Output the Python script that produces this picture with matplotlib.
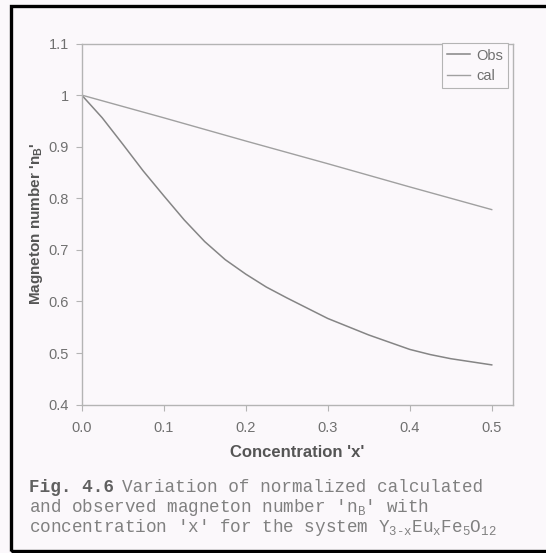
import matplotlib
matplotlib.use('Agg')
import matplotlib.pyplot as plt
from matplotlib.patches import Rectangle

# values
conc_obs = [0.0, 0.025, 0.05, 0.075, 0.1, 0.125, 0.15, 0.175, 0.2, 0.225, 0.25,
            0.275, 0.3, 0.325, 0.35, 0.375, 0.4, 0.425, 0.45, 0.475, 0.5]
nb_obs = [1.0, 0.956, 0.905, 0.853, 0.805, 0.758, 0.716, 0.681, 0.653, 0.628, 0.607,
          0.587, 0.567, 0.551, 0.535, 0.521, 0.507, 0.497, 0.489, 0.483, 0.477]
conc_cal = [0.0, 0.1, 0.2, 0.3, 0.4, 0.5]
nb_cal = [1.0, 0.956, 0.911, 0.867, 0.822, 0.778]
xticks = [0.0, 0.1, 0.2, 0.3, 0.4, 0.5]
xticklabels = ['0.0', '0.1', '0.2', '0.3', '0.4', '0.5']
yticks = [0.4, 0.5, 0.6, 0.7, 0.8, 0.9, 1.0, 1.1]
yticklabels = ['0.4', '0.5', '0.6', '0.7', '0.8', '0.9', '1', '1.1']

plt.rcParams['font.family'] = ['Liberation Sans', 'DejaVu Sans']
plt.rcParams['mathtext.fontset'] = 'custom'
plt.rcParams['mathtext.rm'] = 'Liberation Mono'
plt.rcParams['mathtext.bf'] = 'Liberation Sans:bold'

W, H = 546, 553
bg = '#fbf8fb'
fig = plt.figure(figsize=(W / 100, H / 100), dpi=100, facecolor=bg)
ax = fig.add_axes([81.7 / W, 1 - 404.6 / H, (513.3 - 81.7) / W, (404.6 - 43.5) / H])
ax.set_facecolor(bg)

ax.plot(conc_obs, nb_obs, color='#858585', lw=1.1, label='Obs')
ax.plot(conc_cal, nb_cal, color='#a0a0a0', lw=1.0, label='cal')

ax.set_xlim(0, 0.5263)
ax.set_ylim(0.4, 1.1)
ax.set_xticks(xticks)
ax.set_xticklabels(xticklabels)
ax.set_yticks(yticks)
ax.set_yticklabels(yticklabels)
for sp in ax.spines.values():
    sp.set_color('#b4b4b4')
    sp.set_linewidth(1.0)
ax.tick_params(direction='out', length=4, width=0.8, color='#b4b4b4',
               labelcolor='#707070', labelsize=10.5)
ax.tick_params(axis='x', pad=8)
ax.tick_params(axis='y', pad=5)

ax.set_xlabel("Concentration 'x'", fontsize=12, fontweight='bold', color='#555555', labelpad=7)
ax.set_ylabel("Magneton number 'n$_\\mathbf{B}$'", fontsize=11, fontweight='bold',
              color='#555555', labelpad=3)

leg = ax.legend(loc='upper right', bbox_to_anchor=(0.9884, 1.0), borderaxespad=0,
                fontsize=10.5, handlelength=1.6, handletextpad=0.4, borderpad=0.35,
                labelspacing=0.45, fancybox=False, framealpha=1)
leg.get_frame().set_edgecolor('#b4b4b4')
leg.get_frame().set_facecolor(bg)
leg.get_frame().set_linewidth(0.8)
for t in leg.get_texts():
    t.set_color('#707070')

# caption under the chart
cap_kw = dict(family='Liberation Mono', fontsize=12.7, color='#808080', va='center', ha='left')
fig.text(29 / W, 1 - 488 / H, 'Fig. 4.6', fontweight='bold', **dict(cap_kw, color='#606060'))
fig.text(121.7 / W, 1 - 488 / H, 'Variation of normalized calculated', **cap_kw)
fig.text(29 / W, 1 - 508 / H, "and observed magneton number 'n$_\\mathrm{B}$' with", **cap_kw)
fig.text(29 / W, 1 - 528 / H,
         "concentration 'x' for the system Y$_\\mathrm{3\u2010x}$Eu$_\\mathrm{x}$Fe$_\\mathrm{5}$O$_\\mathrm{12}$",
         **cap_kw)

# scanned page frame (right edge falls outside the image)
fig.add_artist(Rectangle((11 / W, 2 / H), 1.05, (551 - 6) / H, transform=fig.transFigure,
                         fill=False, edgecolor='black', lw=2.4, clip_on=False))

fig.savefig('out.png', dpi=100, facecolor=bg)
